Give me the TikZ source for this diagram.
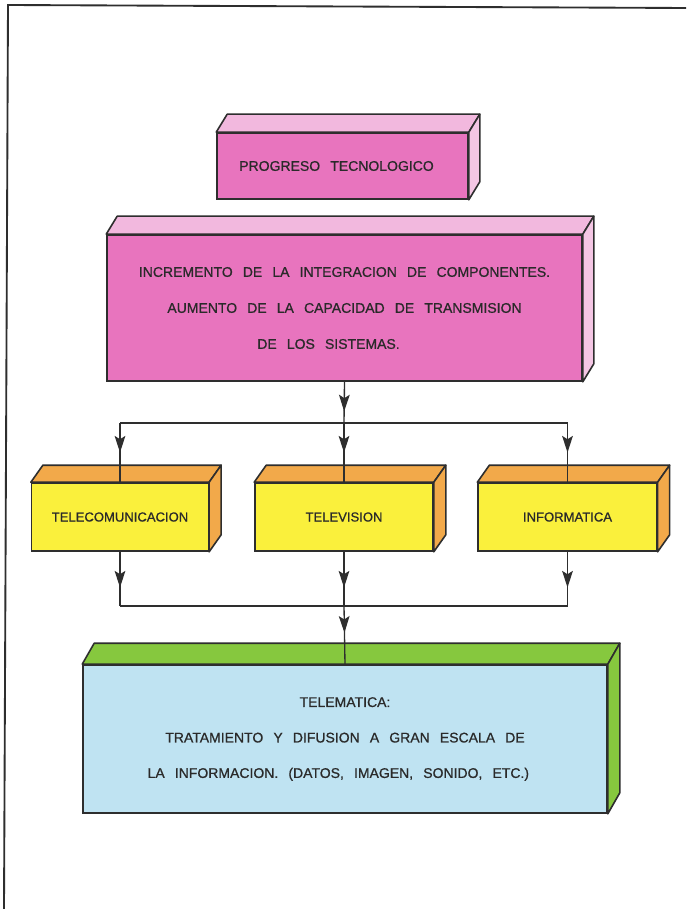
\documentclass[tikz,border=0pt]{standalone}
\usepackage{fontspec}
\newfontfamily\lblfont[WordSpace=2.6,FakeBold=0.8]{Liberation Sans}
\usetikzlibrary{arrows.meta,calc,decorations.markings}
\definecolor{edge}{HTML}{2E2E2E}
\definecolor{txt}{HTML}{2A2A2A}
\definecolor{pinkfront}{HTML}{E874BE}
\definecolor{pinktop}{HTML}{F2B8DE}
\definecolor{pinkside}{HTML}{F4C6E4}
\definecolor{yelfront}{HTML}{FAF03C}
\definecolor{yelside}{HTML}{F2A94A}
\definecolor{grnside}{HTML}{86C83E}
\definecolor{bluefront}{HTML}{BFE3F2}
\newcommand\cuboidfaces[5]{%
  \filldraw[fill=#4,draw=edge,line width=1.2pt,line join=round]
    (#1.north west) -- ++(#2,-#3) -- ($(#1.north east)+(#2,-#3)$) -- (#1.north east) -- cycle;
  \filldraw[fill=#5,draw=edge,line width=1.2pt,line join=round]
    (#1.north east) -- ++(#2,-#3) -- ($(#1.south east)+(#2,-#3)$) -- (#1.south east) -- cycle;
}
\tikzset{
  front/.style={draw=edge,line width=1.2pt,inner sep=0pt,align=center,text=txt,
    font=\lblfont\fontsize{10.5}{27}\selectfont},
  yfront/.style={front,fill=yelfront,minimum height=51pt,
    font=\lblfont\fontsize{9.8}{12}\selectfont},
  conn/.style={draw=edge,line width=1pt},
  midarrow/.style={postaction={decorate},decoration={markings,
    mark=at position #1 with {\arrow{Stealth[length=12.5pt,width=8pt,inset=2.5pt]}}}}
}
\begin{document}
\begin{tikzpicture}[x=0.75pt,y=-0.75pt]
\useasboundingbox[fill=white] (0,0) rectangle (686,909);
\draw[edge,line width=1.4pt] (4,909) -- (8,5) -- (686,8);

% front faces
\node[front,fill=pinkfront,minimum width=188.25pt,minimum height=49.5pt] (prog) at (342.5,166)
  {\hspace*{-9pt}PROGRESO TECNOLOGICO};
\node[front,fill=pinkfront,minimum width=356.25pt,minimum height=109.5pt] (incr) at (344.5,308)
  {INCREMENTO DE LA INTEGRACION DE COMPONENTES.\\AUMENTO DE LA CAPACIDAD DE TRANSMISION\\\hspace*{-24pt}DE LOS SISTEMAS.};
\node[yfront,minimum width=132.5pt] (tele) at (120,517) {TELECOMUNICACION};
\node[yfront,minimum width=133.5pt] (tv) at (344,517) {TELEVISION};
\node[yfront,minimum width=134pt] (info) at (567.5,517) {INFORMATICA};
\node[front,fill=bluefront,minimum width=393pt,minimum height=111pt,
  font=\lblfont\fontsize{10.5}{26.6}\selectfont] (tlm) at (345,739)
  {TELEMATICA:\\TRATAMIENTO Y DIFUSION A GRAN ESCALA DE\\\hspace*{-10pt}LA INFORMACION. (DATOS, IMAGEN, SONIDO, ETC.)};

% 3D faces
\cuboidfaces{prog}{11}{18}{pinktop}{pinkside}
\cuboidfaces{incr}{11}{18}{pinktop}{pinkside}
\cuboidfaces{tele}{12}{17}{yelside}{yelside}
\cuboidfaces{tv}{12}{17}{yelside}{yelside}
\cuboidfaces{info}{12}{17}{yelside}{yelside}
\cuboidfaces{tlm}{12}{21}{grnside}{grnside}

% bus coordinates
\coordinate (bt) at (344,423);
\coordinate (btl) at (tele.north |- bt);
\coordinate (btr) at (info.north |- bt);
\coordinate (bb) at (344,606);
\coordinate (bbl) at (tele.south |- bb);
\coordinate (bbr) at (info.south |- bb);

% connectors
\draw[conn,midarrow=0.72] (incr.south) -- (bt);
\draw[conn] (btl) -- (btr);
\draw[conn,midarrow=0.5] (btl) -- (tele.north);
\draw[conn,midarrow=0.5] (bt) -- (tv.north);
\draw[conn,midarrow=0.5] (btr) -- (info.north);
\draw[conn,midarrow=0.66] (tele.south) -- (bbl);
\draw[conn,midarrow=0.66] (tv.south) -- (bb);
\draw[conn,midarrow=0.66] (info.south) -- (bbr);
\draw[conn] (bbl) -- (bbr);
\draw[conn,midarrow=0.46] (bb) -- (tlm.north);
\end{tikzpicture}
\end{document}
